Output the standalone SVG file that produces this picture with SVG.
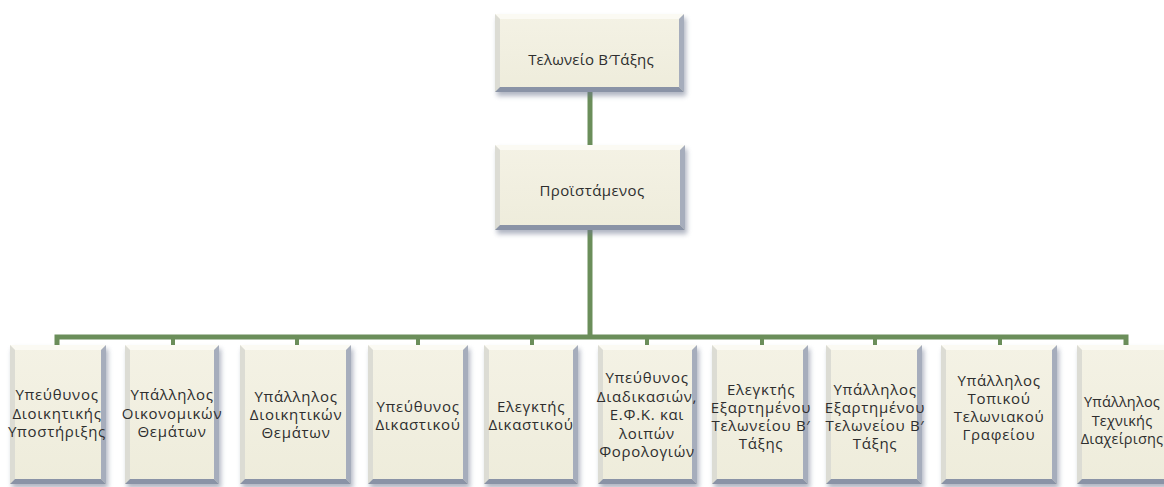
<svg xmlns="http://www.w3.org/2000/svg" width="1164" height="487" viewBox="0 0 1164 487">
<defs>
<filter id="sh" x="-20%" y="-20%" width="140%" height="140%"><feGaussianBlur stdDeviation="2.5"/></filter>
<linearGradient id="face" x1="0" y1="0" x2="0" y2="1"><stop offset="0" stop-color="#F4F2E5"/><stop offset="1" stop-color="#EEECDB"/></linearGradient>
</defs>
<style>
.shadow{fill:#6E7890;opacity:0.55;filter:url(#sh)}
.face{fill:url(#face)}
.bt{fill:#FBFAF3}
.bl{fill:#DCDCD4}
.br{fill:#A6ADBC}
.bb{fill:#8A93A6}
.conn{stroke:#6B8E5A;stroke-width:5;fill:none;stroke-linejoin:miter}
.tick{stroke:#6B8E5A;stroke-width:4;fill:none}
text{font-family:"Open Sans","Noto Sans","DejaVu Sans",sans-serif;font-size:15px;fill:#2E2E2E;text-anchor:middle;letter-spacing:0.7px}
</style>
<rect width="1164" height="487" fill="#FFFFFF"/>
<g id="connectors">
<line class="conn" x1="590" y1="90" x2="590" y2="147"/>
<line class="conn" x1="590" y1="228" x2="590" y2="337"/>
<path class="conn" d="M57,346 V337 H1126 V346"/>
<line class="tick" x1="173" y1="337" x2="173" y2="346"/>
<line class="tick" x1="297" y1="337" x2="297" y2="346"/>
<line class="tick" x1="418" y1="337" x2="418" y2="346"/>
<line class="tick" x1="532" y1="337" x2="532" y2="346"/>
<line class="tick" x1="647" y1="337" x2="647" y2="346"/>
<line class="tick" x1="762" y1="337" x2="762" y2="346"/>
<line class="tick" x1="875" y1="337" x2="875" y2="346"/>
<line class="tick" x1="1000" y1="337" x2="1000" y2="346"/>
</g>
<g id="n-telonio">
<rect class="shadow" x="497" y="18" width="189" height="78"/>
<rect class="face" x="495" y="14" width="189" height="78"/>
<path class="bt" d="M495,14 H684 L679,19 H500 Z"/>
<path class="bl" d="M495,14 L500,19 V87 L495,92 Z"/>
<path class="br" d="M684,14 V92 L679,87 V19 Z"/>
<path class="bb" d="M495,92 H684 L679,87 H500 Z"/>
<text x="591" y="65" style="letter-spacing:0.2px">Τελωνείο Β′Τάξης</text>
</g>
<g id="n-proistamenos">
<rect class="shadow" x="497" y="149" width="190" height="85"/>
<rect class="face" x="495" y="145" width="190" height="85"/>
<path class="bt" d="M495,145 H685 L680,150 H500 Z"/>
<path class="bl" d="M495,145 L500,150 V225 L495,230 Z"/>
<path class="br" d="M685,145 V230 L680,225 V150 Z"/>
<path class="bb" d="M495,230 H685 L680,225 H500 Z"/>
<text x="592" y="196" style="letter-spacing:0.4px">Προϊστάμενος</text>
</g>
<g id="n1">
<rect class="shadow" x="12" y="349" width="96" height="139"/>
<rect class="face" x="10" y="345" width="96" height="139"/>
<path class="bt" d="M10,345 H106 L101,350 H15 Z"/>
<path class="bl" d="M10,345 L15,350 V479 L10,484 Z"/>
<path class="br" d="M106,345 V484 L101,479 V350 Z"/>
<path class="bb" d="M10,484 H106 L101,479 H15 Z"/>
<text x="57"><tspan x="57" y="400">Υπεύθυνος</tspan><tspan x="57" y="418.5">Διοικητικής</tspan><tspan x="57" y="437">Υποστήριξης</tspan></text>
</g>
<g id="n2">
<rect class="shadow" x="127" y="349" width="94" height="139"/>
<rect class="face" x="125" y="345" width="94" height="139"/>
<path class="bt" d="M125,345 H219 L214,350 H130 Z"/>
<path class="bl" d="M125,345 L130,350 V479 L125,484 Z"/>
<path class="br" d="M219,345 V484 L214,479 V350 Z"/>
<path class="bb" d="M125,484 H219 L214,479 H130 Z"/>
<text><tspan x="172" y="400">Υπάλληλος</tspan><tspan x="172" y="418.5">Οικονομικών</tspan><tspan x="172" y="437">Θεμάτων</tspan></text>
</g>
<g id="n3">
<rect class="shadow" x="242" y="349" width="111" height="139"/>
<rect class="face" x="240" y="345" width="111" height="139"/>
<path class="bt" d="M240,345 H351 L346,350 H245 Z"/>
<path class="bl" d="M240,345 L245,350 V479 L240,484 Z"/>
<path class="br" d="M351,345 V484 L346,479 V350 Z"/>
<path class="bb" d="M240,484 H351 L346,479 H245 Z"/>
<text><tspan x="296" y="402">Υπάλληλος</tspan><tspan x="296" y="420">Διοικητικών</tspan><tspan x="296" y="438">Θεμάτων</tspan></text>
</g>
<g id="n4">
<rect class="shadow" x="370" y="349" width="100" height="139"/>
<rect class="face" x="368" y="345" width="100" height="139"/>
<path class="bt" d="M368,345 H468 L463,350 H373 Z"/>
<path class="bl" d="M368,345 L373,350 V479 L368,484 Z"/>
<path class="br" d="M468,345 V484 L463,479 V350 Z"/>
<path class="bb" d="M368,484 H468 L463,479 H373 Z"/>
<text><tspan x="418" y="412">Υπεύθυνος</tspan><tspan x="418" y="430">Δικαστικού</tspan></text>
</g>
<g id="n5">
<rect class="shadow" x="486" y="349" width="94" height="139"/>
<rect class="face" x="484" y="345" width="94" height="139"/>
<path class="bt" d="M484,345 H578 L573,350 H489 Z"/>
<path class="bl" d="M484,345 L489,350 V479 L484,484 Z"/>
<path class="br" d="M578,345 V484 L573,479 V350 Z"/>
<path class="bb" d="M484,484 H578 L573,479 H489 Z"/>
<text><tspan x="531" y="412">Ελεγκτής</tspan><tspan x="531" y="430">Δικαστικού</tspan></text>
</g>
<g id="n6">
<rect class="shadow" x="600" y="349" width="99" height="139"/>
<rect class="face" x="598" y="345" width="99" height="139"/>
<path class="bt" d="M598,345 H697 L692,350 H603 Z"/>
<path class="bl" d="M598,345 L603,350 V479 L598,484 Z"/>
<path class="br" d="M697,345 V484 L692,479 V350 Z"/>
<path class="bb" d="M598,484 H697 L692,479 H603 Z"/>
<text><tspan x="647" y="383">Υπεύθυνος</tspan><tspan x="647" y="401.5">Διαδικασιών,</tspan><tspan x="647" y="420">Ε.Φ.Κ. και</tspan><tspan x="647" y="438.5">λοιπών</tspan><tspan x="647" y="457">Φορολογιών</tspan></text>
</g>
<g id="n7">
<rect class="shadow" x="714" y="349" width="96" height="139"/>
<rect class="face" x="712" y="345" width="96" height="139"/>
<path class="bt" d="M712,345 H808 L803,350 H717 Z"/>
<path class="bl" d="M712,345 L717,350 V479 L712,484 Z"/>
<path class="br" d="M808,345 V484 L803,479 V350 Z"/>
<path class="bb" d="M712,484 H808 L803,479 H717 Z"/>
<text><tspan x="761" y="395">Ελεγκτής</tspan><tspan x="761" y="413">Εξαρτημένου</tspan><tspan x="761" y="431">Τελωνείου Β′</tspan><tspan x="761" y="449">Τάξης</tspan></text>
</g>
<g id="n8">
<rect class="shadow" x="828" y="349" width="96" height="139"/>
<rect class="face" x="826" y="345" width="96" height="139"/>
<path class="bt" d="M826,345 H922 L917,350 H831 Z"/>
<path class="bl" d="M826,345 L831,350 V479 L826,484 Z"/>
<path class="br" d="M922,345 V484 L917,479 V350 Z"/>
<path class="bb" d="M826,484 H922 L917,479 H831 Z"/>
<text><tspan x="875" y="395">Υπάλληλος</tspan><tspan x="875" y="413">Εξαρτημένου</tspan><tspan x="875" y="431">Τελωνείου Β′</tspan><tspan x="875" y="449">Τάξης</tspan></text>
</g>
<g id="n9">
<rect class="shadow" x="943" y="349" width="116" height="139"/>
<rect class="face" x="941" y="345" width="116" height="139"/>
<path class="bt" d="M941,345 H1057 L1052,350 H946 Z"/>
<path class="bl" d="M941,345 L946,350 V479 L941,484 Z"/>
<path class="br" d="M1057,345 V484 L1052,479 V350 Z"/>
<path class="bb" d="M941,484 H1057 L1052,479 H946 Z"/>
<text><tspan x="999" y="386">Υπάλληλος</tspan><tspan x="999" y="404">Τοπικού</tspan><tspan x="999" y="422">Τελωνιακού</tspan><tspan x="999" y="440">Γραφείου</tspan></text>
</g>
<g id="n10">
<rect class="shadow" x="1079" y="349" width="98" height="139"/>
<rect class="face" x="1077" y="345" width="98" height="139"/>
<path class="bt" d="M1077,345 H1175 L1170,350 H1082 Z"/>
<path class="bl" d="M1077,345 L1082,350 V479 L1077,484 Z"/>
<path class="bb" d="M1077,484 H1175 L1170,479 H1082 Z"/>
<text style="font-size:14.5px;letter-spacing:0.2px"><tspan x="1122" y="407">Υπάλληλος</tspan><tspan x="1122" y="426">Τεχνικής</tspan><tspan x="1122" y="444">Διαχείρισης</tspan></text>
</g>
</svg>
